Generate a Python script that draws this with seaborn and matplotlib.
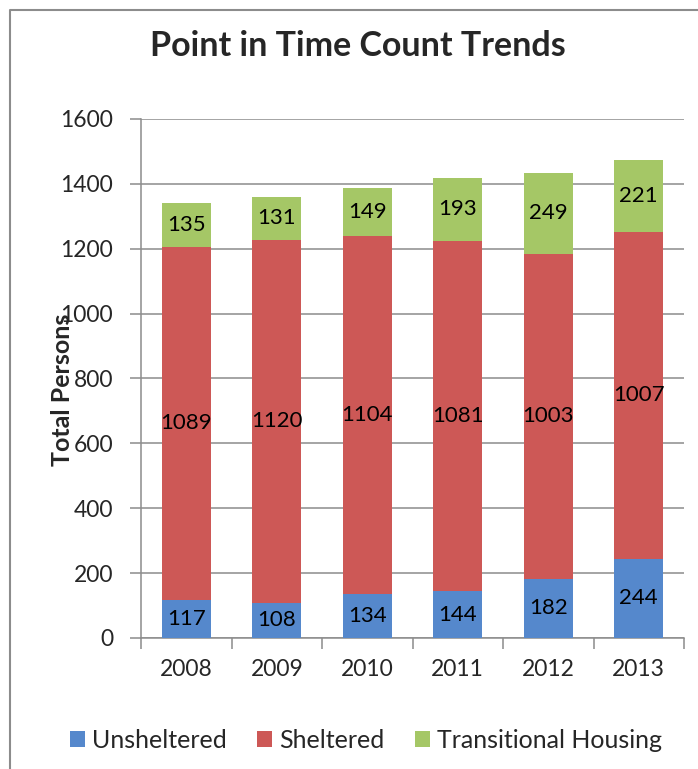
import matplotlib
matplotlib.use("Agg")
import matplotlib.pyplot as plt
from matplotlib.lines import Line2D
from matplotlib.patches import Patch
import seaborn as sns
import pandas as pd
import numpy as np

years = ["2008", "2009", "2010", "2011", "2012", "2013"]
unsheltered = [117, 108, 134, 144, 182, 244]
sheltered = [1089, 1120, 1104, 1081, 1003, 1007]
transitional = [135, 131, 149, 193, 249, 221]
series_names = ["Unsheltered", "Sheltered", "Transitional Housing"]
colors = ["#5588CC", "#CD5856", "#A5C766"]
yticks = [0, 200, 400, 600, 800, 1000, 1200, 1400, 1600]

sns.set_theme(style="white")
plt.rcParams["font.family"] = ["Lato", "DejaVu Sans"]

df = pd.DataFrame({"year": years, "Unsheltered": unsheltered,
                   "Sheltered": sheltered, "Transitional Housing": transitional})
df["cum1"] = df["Unsheltered"]
df["cum2"] = df["cum1"] + df["Sheltered"]
df["cum3"] = df["cum2"] + df["Transitional Housing"]

fig = plt.figure(figsize=(6.98, 7.69), dpi=100)
ax = fig.add_axes([0.202, 0.1704, 0.778, 0.6749])

W = 0.54
for col, c in zip(["cum3", "cum2", "cum1"], [colors[2], colors[1], colors[0]]):
    sns.barplot(data=df, x="year", y=col, color=c, width=W, ax=ax,
                saturation=1, linewidth=0, zorder=3)

bottoms = [np.zeros(len(years)), df["cum1"].values, df["cum2"].values]
vals = [df["Unsheltered"].values, df["Sheltered"].values, df["Transitional Housing"].values]
for b, v in zip(bottoms, vals):
    for i in range(len(years)):
        ax.text(i, b[i] + v[i] / 2, str(v[i]), ha="center", va="center",
                fontsize=16, color="black", zorder=5)

ax.set_xlim(-0.5, 5.5)
ax.set_ylim(0, 1600)
ax.set_yticks(yticks)
ax.set_yticklabels([str(t) for t in yticks])
ax.set_xlabel("")
ax.set_ylabel("")
ax.yaxis.grid(True, color="#8c8c8c", linewidth=1.1, zorder=0)
ax.set_axisbelow(True)
for s in ["top", "right"]:
    ax.spines[s].set_visible(False)
for s in ["left", "bottom"]:
    ax.spines[s].set_color("#8c8c8c")
    ax.spines[s].set_linewidth(1.1)
ax.tick_params(axis="y", which="major", length=8, width=1.1, color="#8c8c8c",
               direction="out", pad=12, labelsize=16.5, left=True)
ax.set_xticks(np.arange(-0.5, 6, 1), minor=True)
ax.tick_params(axis="x", which="major", length=0, pad=15, labelsize=16.5)
ax.tick_params(axis="x", which="minor", length=8, width=1.1, color="#8c8c8c",
               direction="out", bottom=True)

fig.text(0.513, 0.94, "Point in Time Count Trends", ha="center", va="center",
         fontsize=24.5, fontweight="bold")
fig.text(0.089, 0.493, "Total Persons", ha="center", va="center",
         rotation=90, fontsize=18, fontweight="bold")

handles = [Patch(facecolor=c, edgecolor="none") for c in colors]
fig.legend(handles, series_names, loc="center", bbox_to_anchor=(0.524, 0.0377),
           ncol=3, frameon=False, fontsize=18, handlelength=0.6, handleheight=0.6,
           handletextpad=0.3, columnspacing=1.2)

fig.add_artist(Line2D([0.0143, 0.0143, 1.0], [0.0, 0.987, 0.987],
                      transform=fig.transFigure, color="#8c8c8c", linewidth=1.5))

fig.savefig("out.png", dpi=100)
